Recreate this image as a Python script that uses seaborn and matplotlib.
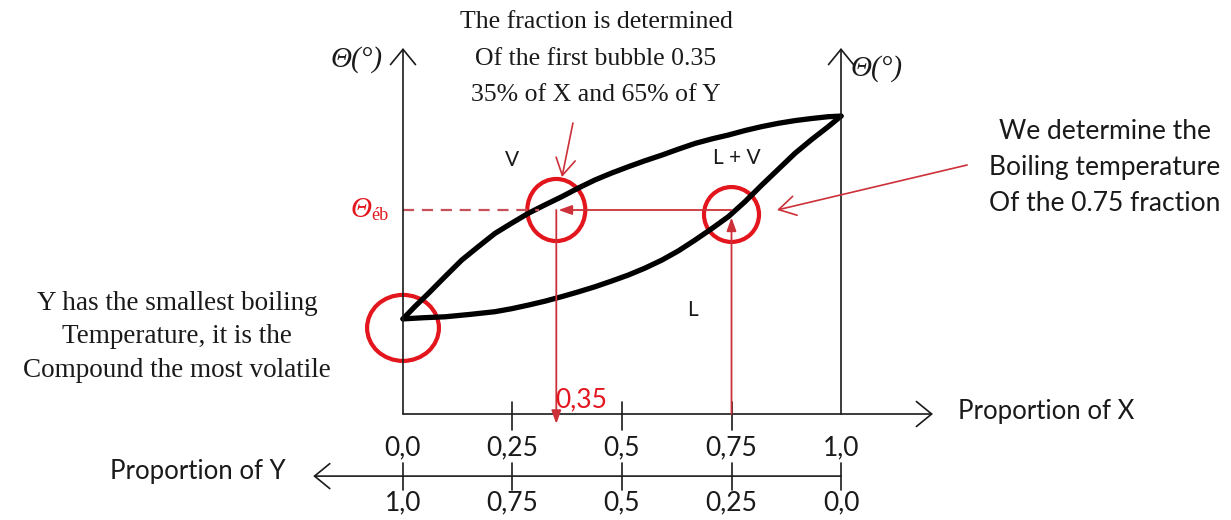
import matplotlib
matplotlib.use("Agg")
import matplotlib.pyplot as plt
from matplotlib.patches import Ellipse
import pandas as pd
import seaborn as sns

# Dew (vapour) curve: proportion of X against temperature
dew_x = [0.0, 0.027, 0.058, 0.096, 0.134, 0.172, 0.21, 0.248, 0.286, 0.324, 0.362,
         0.40, 0.438, 0.476, 0.514, 0.552, 0.591, 0.629, 0.667, 0.705, 0.743, 0.781,
         0.819, 0.857, 0.895, 0.933, 0.971, 1.0]
dew_t = [31.7, 35.8, 40.2, 45.8, 51.3, 55.8, 60.2, 63.6, 66.9, 69.7, 72.4,
         75.3, 78.0, 80.3, 82.4, 84.4, 86.3, 88.3, 90.2, 91.7, 93.0, 94.5,
         95.8, 96.9, 97.8, 98.5, 99.1, 99.3]
# Bubble (liquid) curve
bub_x = [0.0, 0.048, 0.096, 0.153, 0.21, 0.248, 0.286, 0.324, 0.362, 0.40, 0.438,
         0.476, 0.514, 0.552, 0.591, 0.629, 0.667, 0.705, 0.743, 0.781, 0.819,
         0.857, 0.895, 0.933, 0.971, 1.0]
bub_t = [31.7, 32.1, 32.4, 33.2, 34.1, 35.1, 36.3, 37.6, 39.1, 40.7, 42.4,
         44.3, 46.3, 48.6, 51.3, 54.4, 58.0, 61.8, 65.8, 70.8, 76.3,
         81.6, 86.9, 91.5, 95.8, 99.3]

tick_pos = [0.0, 0.25, 0.5, 0.75, 1.0]
x_labels = ["0,0", "0,25", "0,5", "0,75", "1,0"]
y_labels = ["1,0", "0,75", "0,5", "0,25", "0,0"]

t_boil = 68.0      # boiling temperature of the 0.75 mixture
x_vapour = 0.35    # composition of the first bubble
x_liquid = 0.75    # composition of the liquid

sns.set_style("white")
plt.rcParams["font.family"] = ["DejaVu Sans"]

RED = "#e3151d"
THIN_RED = "#cc3038"
INK = "#1a1a1a"
SERIF = ["Liberation Serif", "DejaVu Serif"]
SANS = ["Lato", "DejaVu Sans"]

fig = plt.figure(figsize=(12.31, 5.2), dpi=100)
ax = fig.add_axes([0, 0, 1, 1])
ax.set_xlim(-0.92009, 1.89041)
ax.set_ylim(-35.333, 138)
ax.axis("off")

curves = pd.concat([
    pd.DataFrame({"x": dew_x, "t": dew_t, "curve": "dew"}),
    pd.DataFrame({"x": bub_x, "t": bub_t, "curve": "bubble"}),
])
sns.lineplot(data=curves, x="x", y="t", hue="curve", palette={"dew": "black", "bubble": "black"},
             estimator=None, sort=False, legend=False, linewidth=3.8, ax=ax,
             solid_capstyle="round", solid_joinstyle="round")

axis_arrow = dict(arrowstyle="->, head_length=0.55, head_width=0.45", color=INK, lw=1.2,
                  mutation_scale=20, shrinkA=0, shrinkB=0)

# temperature axes on both sides
for xv in (0.0, 1.0):
    ax.annotate("", xy=(xv, 122), xytext=(xv, 0), arrowprops=axis_arrow)
# proportion of X axis
ax.annotate("", xy=(1.21, 0), xytext=(0, 0), arrowprops=axis_arrow)
for xv in tick_pos[1:4]:
    ax.plot([xv, xv], [-5.3, 4.0], color=INK, lw=1.2)
# proportion of Y axis (reversed)
y_axis_level = -20.7
ax.annotate("", xy=(-0.205, y_axis_level), xytext=(1.0, y_axis_level), arrowprops=axis_arrow)
for xv in tick_pos:
    ax.plot([xv, xv], [-25.3, -16.3], color=INK, lw=1.2)

for xv, lx, ly in zip(tick_pos, x_labels, y_labels):
    ax.text(xv, -11.3, lx, ha="center", va="center", fontsize=19, family=SANS, color=INK)
    ax.text(xv, -29.7, ly, ha="center", va="center", fontsize=19, family=SANS, color=INK)

ax.text(1.267, 1.0, "Proportion of X", ha="left", va="center", fontsize=18.5, family=SANS, color=INK)
ax.text(-0.669, -19.0, "Proportion of Y", ha="left", va="center", fontsize=18.5, family=SANS, color=INK)

# temperature axis labels
ax.text(-0.105, 118, "Θ(°)", ha="center", va="center", fontsize=21, family=SERIF,
        style="italic", color=INK)
ax.text(1.082, 115.3, "Θ(°)", ha="center", va="center", fontsize=21, family=SERIF,
        style="italic", color=INK)

# region labels
ax.text(0.249, 84.7, "V", ha="center", va="center", fontsize=15, family=SANS, color=INK)
ax.text(0.763, 85.3, "L + V", ha="center", va="center", fontsize=15, family=SANS, color=INK)
ax.text(0.662, 34.7, "L", ha="center", va="center", fontsize=15, family=SANS, color=INK)

# boiling temperature construction
ax.plot([0.0, 0.31], [t_boil, t_boil], color="#c8505a", lw=1.6, ls=(0, (5, 3.5)))
ax.text(-0.095, t_boil, "Θ", ha="center", va="center", fontsize=21, family=SERIF,
        style="italic", color=RED)
ax.text(-0.052, t_boil - 1.8, "éb", ha="center", va="center", fontsize=13, family=SERIF,
        color=RED)

filled = dict(arrowstyle="-|>, head_length=0.5, head_width=0.18", color=THIN_RED, lw=1.3,
              mutation_scale=16, shrinkA=0, shrinkB=0)
ax.annotate("", xy=(x_vapour + 0.005, t_boil), xytext=(x_liquid, t_boil), arrowprops=filled)
ax.annotate("", xy=(x_vapour, -3.3), xytext=(x_vapour, t_boil), arrowprops=filled)
ax.annotate("", xy=(x_liquid, t_boil - 2.5), xytext=(x_liquid, 0), arrowprops=filled)
ax.text(x_vapour + 0.056, 4.7, "0,35", ha="center", va="center", fontsize=19, family=SANS,
        color=RED)

# highlight circles
for cx, cy, w, h in [(x_vapour, t_boil, 0.1324, 20.7),
                     (x_liquid, t_boil - 1.5, 0.1256, 18.3),
                     (dew_x[0], dew_t[0] - 3.0, 0.164, 22.0)]:
    ax.add_patch(Ellipse((cx, cy), w, h, fill=False, ec=RED, lw=3.0))

# annotations
open_arrow = dict(arrowstyle="->, head_length=0.6, head_width=0.35", color=THIN_RED, lw=1.2,
                  mutation_scale=20, shrinkA=0, shrinkB=0)
ax.annotate("", xy=(0.363, 79.0), xytext=(0.388, 97.0), arrowprops=open_arrow)
ax.annotate("", xy=(0.854, 68.0), xytext=(1.288, 83.0), arrowprops=open_arrow)

ax.text(0.4406, 118.5, "The fraction is determined\nOf the first bubble 0.35\n35% of X and 65% of Y",
        ha="center", va="center", fontsize=18.5, family=SERIF, color=INK, linespacing=1.85)
ax.text(-0.516, 25.7, "Y has the smallest boiling\nTemperature, it is the\nCompound the most volatile",
        ha="center", va="center", fontsize=19.5, family=SERIF, color=INK, linespacing=1.46)
ax.text(1.603, 82.3, "We determine the\nBoiling temperature\nOf the 0.75 fraction",
        ha="center", va="center", fontsize=19, family=SANS, color=INK, linespacing=1.55)

fig.savefig("out.png", dpi=100, facecolor="white")
